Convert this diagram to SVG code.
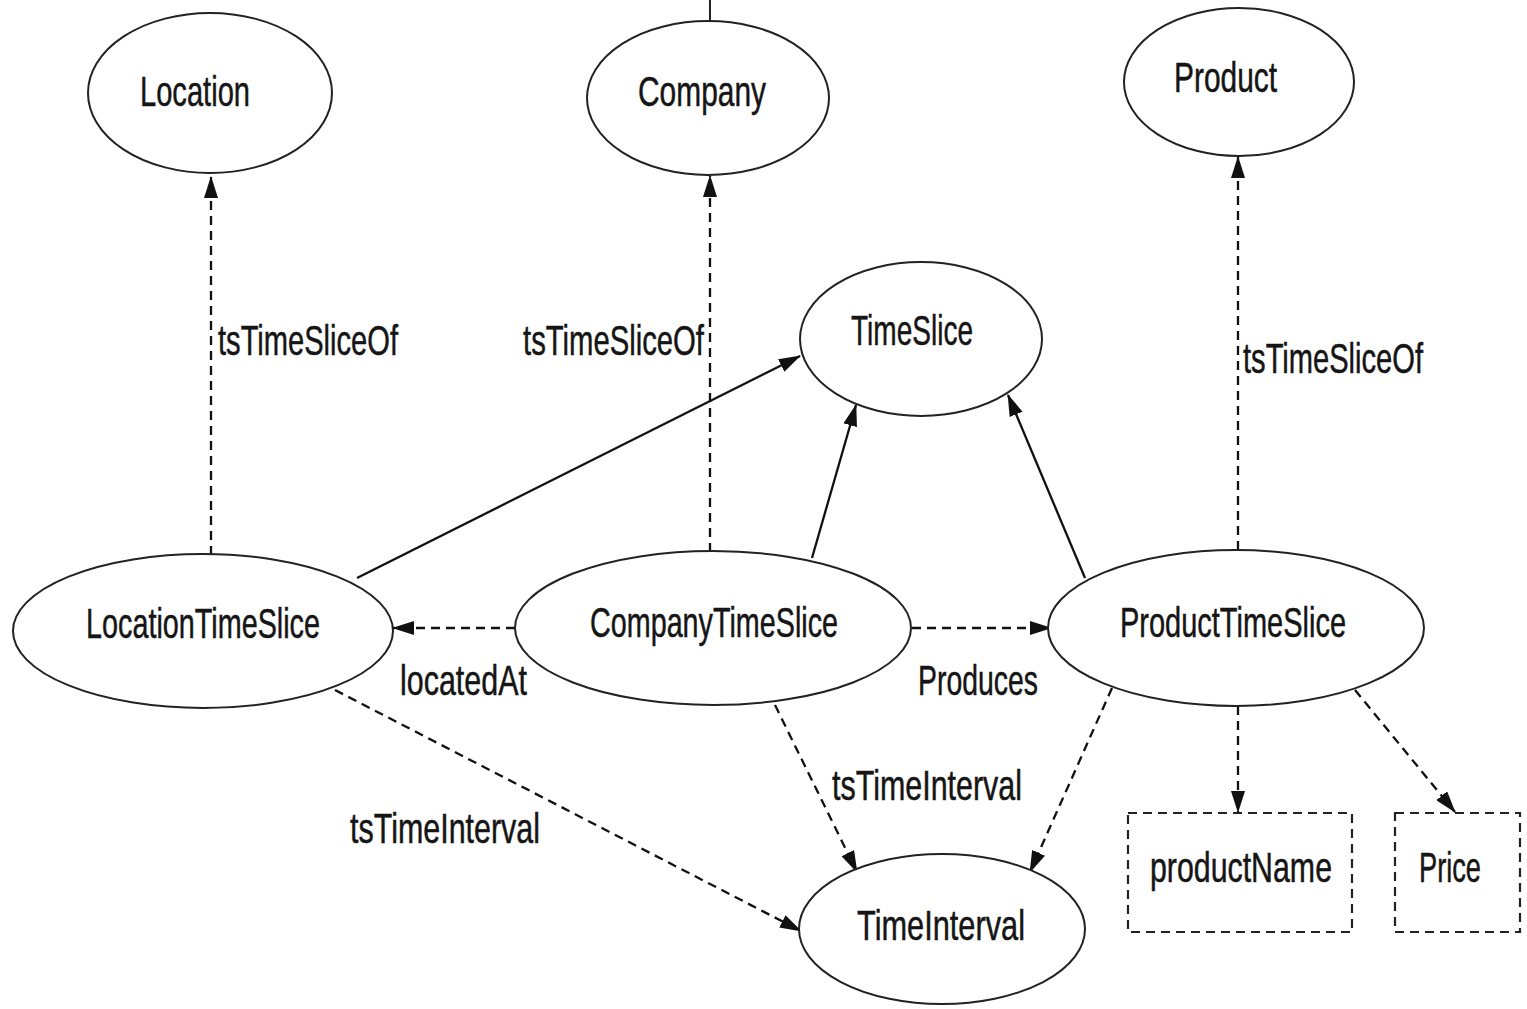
<svg xmlns="http://www.w3.org/2000/svg" width="1527" height="1009" viewBox="0 0 1527 1009">
  <style>
    .node { fill: #fff; stroke: #222; stroke-width: 2; }
    .attr { fill: #fff; stroke: #222; stroke-width: 2.2; stroke-dasharray: 9 6; }
    .lbl { font-family: "Liberation Sans", Arial, sans-serif; font-size: 43px; fill: #151515; stroke: #151515; stroke-width: 0.5; }
    .edge { fill: none; stroke: #111; stroke-width: 2.3; }
    .dash { stroke-dasharray: 9 6; }
  </style>
  <defs>
    <marker id="arrow" viewBox="0 0 22 14" refX="21" refY="7" markerWidth="22" markerHeight="14" markerUnits="userSpaceOnUse" orient="auto">
      <path d="M0,0 L22,7 L0,14 z" fill="#111"/>
    </marker>
  </defs>
  <rect width="1527" height="1009" fill="#fff"/>

  <!-- short stub above Company -->
  <line x1="710" y1="0" x2="710" y2="22" stroke="#222" stroke-width="2"/>

  <g id="connectors">
    <!-- tsTimeSliceOf links -->
    <line class="edge dash" x1="211" y1="555" x2="211" y2="177" marker-end="url(#arrow)"/>
    <line class="edge dash" x1="710" y1="552" x2="710" y2="176" marker-end="url(#arrow)"/>
    <line class="edge dash" x1="1238" y1="550" x2="1238" y2="157" marker-end="url(#arrow)"/>
    <!-- subclass links to TimeSlice -->
    <line class="edge" x1="357" y1="578" x2="800" y2="356" marker-end="url(#arrow)"/>
    <line class="edge" x1="812" y1="558" x2="856" y2="405" marker-end="url(#arrow)"/>
    <line class="edge" x1="1085" y1="578" x2="1008" y2="395" marker-end="url(#arrow)"/>
    <!-- locatedAt / Produces -->
    <line class="edge dash" x1="515" y1="628" x2="393" y2="628" marker-end="url(#arrow)"/>
    <line class="edge dash" x1="912" y1="628" x2="1051" y2="628" marker-end="url(#arrow)"/>
    <!-- tsTimeInterval links -->
    <line class="edge dash" x1="335" y1="690" x2="801" y2="931" marker-end="url(#arrow)"/>
    <line class="edge dash" x1="775" y1="705" x2="857" y2="872" marker-end="url(#arrow)"/>
    <line class="edge dash" x1="1112" y1="688" x2="1030" y2="872" marker-end="url(#arrow)"/>
    <!-- attribute links -->
    <line class="edge dash" x1="1238" y1="706" x2="1238" y2="812" marker-end="url(#arrow)"/>
    <line class="edge dash" x1="1355" y1="690" x2="1455" y2="812" marker-end="url(#arrow)"/>

    <text class="lbl" x="218" y="355" textLength="180" lengthAdjust="spacingAndGlyphs">tsTimeSliceOf</text>
    <text class="lbl" x="523" y="355" textLength="181" lengthAdjust="spacingAndGlyphs">tsTimeSliceOf</text>
    <text class="lbl" x="1243" y="373" textLength="180" lengthAdjust="spacingAndGlyphs">tsTimeSliceOf</text>
    <text class="lbl" x="400" y="695" textLength="127" lengthAdjust="spacingAndGlyphs">locatedAt</text>
    <text class="lbl" x="918" y="695" textLength="120" lengthAdjust="spacingAndGlyphs">Produces</text>
    <text class="lbl" x="350" y="843" textLength="190" lengthAdjust="spacingAndGlyphs">tsTimeInterval</text>
    <text class="lbl" x="832" y="800" textLength="190" lengthAdjust="spacingAndGlyphs">tsTimeInterval</text>
  </g>

  <g id="location">
    <ellipse class="node" cx="210" cy="93" rx="122" ry="80"/>
    <text class="lbl" x="140" y="106" textLength="110" lengthAdjust="spacingAndGlyphs">Location</text>
  </g>
  <g id="company">
    <ellipse class="node" cx="708" cy="98" rx="121" ry="77"/>
    <text class="lbl" x="638" y="106" textLength="128" lengthAdjust="spacingAndGlyphs">Company</text>
  </g>
  <g id="product">
    <ellipse class="node" cx="1239" cy="82" rx="115" ry="74"/>
    <text class="lbl" x="1174" y="92" textLength="103" lengthAdjust="spacingAndGlyphs">Product</text>
  </g>
  <g id="timeslice">
    <ellipse class="node" cx="921" cy="339" rx="121" ry="77"/>
    <text class="lbl" x="851" y="345" textLength="122" lengthAdjust="spacingAndGlyphs">TimeSlice</text>
  </g>
  <g id="location-timeslice">
    <ellipse class="node" cx="203" cy="631" rx="190" ry="77"/>
    <text class="lbl" x="86" y="638" textLength="234" lengthAdjust="spacingAndGlyphs">LocationTimeSlice</text>
  </g>
  <g id="company-timeslice">
    <ellipse class="node" cx="713" cy="628" rx="198" ry="77"/>
    <text class="lbl" x="590" y="637" textLength="248" lengthAdjust="spacingAndGlyphs">CompanyTimeSlice</text>
  </g>
  <g id="product-timeslice">
    <ellipse class="node" cx="1236" cy="628" rx="188" ry="78"/>
    <text class="lbl" x="1120" y="637" textLength="226" lengthAdjust="spacingAndGlyphs">ProductTimeSlice</text>
  </g>
  <g id="time-interval">
    <ellipse class="node" cx="942" cy="929" rx="143" ry="75"/>
    <text class="lbl" x="857" y="940" textLength="168" lengthAdjust="spacingAndGlyphs">TimeInterval</text>
  </g>
  <g id="product-name">
    <rect class="attr" x="1128" y="813" width="224" height="119"/>
    <text class="lbl" x="1150" y="882" textLength="182" lengthAdjust="spacingAndGlyphs">productName</text>
  </g>
  <g id="price">
    <rect class="attr" x="1395" y="813" width="125" height="119"/>
    <text class="lbl" x="1419" y="882" textLength="62" lengthAdjust="spacingAndGlyphs">Price</text>
  </g>
</svg>
